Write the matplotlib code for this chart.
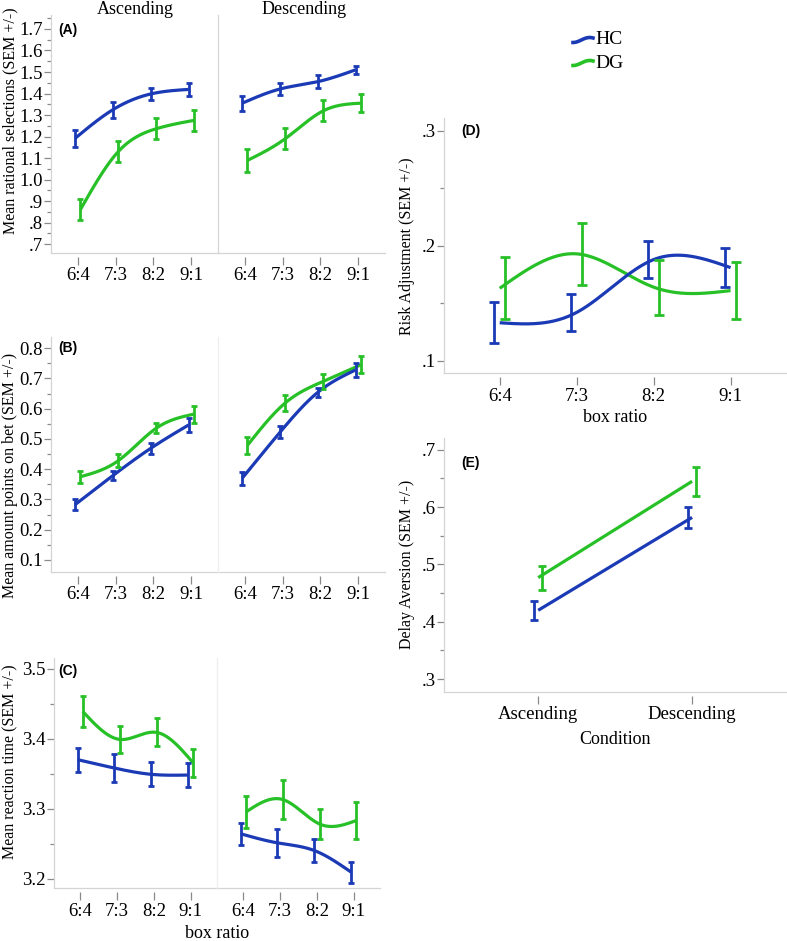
import numpy as np
import matplotlib
matplotlib.use("Agg")
import matplotlib.pyplot as plt
from matplotlib.lines import Line2D
from matplotlib.ticker import MultipleLocator, FuncFormatter

plt.rcParams["font.family"] = ["Liberation Serif", "DejaVu Serif"]

# ---------------- data ----------------
ratios = ["6:4", "7:3", "8:2", "9:1"]
conditions = ["Ascending", "Descending"]
groups = ["HC", "DG"]

# (A) Mean rational selections
A_asc_hc = [1.192, 1.325, 1.398, 1.419]
A_asc_hc_sem = [0.040, 0.037, 0.028, 0.029]
A_asc_dg = [0.861, 1.130, 1.236, 1.275]
A_asc_dg_sem = [0.050, 0.050, 0.049, 0.049]
A_desc_hc = [1.355, 1.421, 1.455, 1.510]
A_desc_hc_sem = [0.035, 0.030, 0.029, 0.017]
A_desc_dg = [1.089, 1.190, 1.319, 1.355]
A_desc_dg_sem = [0.053, 0.050, 0.049, 0.042]

# (B) Mean amount points on bet
B_asc_hc = [0.283, 0.379, 0.469, 0.546]
B_asc_hc_sem = [0.017, 0.016, 0.019, 0.022]
B_asc_dg = [0.375, 0.428, 0.535, 0.582]
B_asc_dg_sem = [0.020, 0.022, 0.017, 0.028]
B_desc_hc = [0.370, 0.522, 0.654, 0.728]
B_desc_hc_sem = [0.022, 0.020, 0.016, 0.022]
B_desc_dg = [0.479, 0.619, 0.690, 0.745]
B_desc_dg_sem = [0.029, 0.026, 0.024, 0.028]

# (C) Mean reaction time
C_asc_hc = [3.370, 3.358, 3.349, 3.348]
C_asc_hc_sem = [0.017, 0.020, 0.017, 0.017]
C_asc_dg = [3.439, 3.399, 3.409, 3.365]
C_asc_dg_sem = [0.022, 0.019, 0.020, 0.020]
C_desc_hc = [3.264, 3.251, 3.240, 3.209]
C_desc_hc_sem = [0.016, 0.020, 0.017, 0.015]
C_desc_dg = [3.295, 3.313, 3.278, 3.283]
C_desc_dg_sem = [0.023, 0.028, 0.021, 0.026]

# (D) Risk adjustment
D_hc = [0.133, 0.142, 0.188, 0.181]
D_hc_sem = [0.018, 0.016, 0.016, 0.017]
D_dg = [0.163, 0.193, 0.164, 0.161]
D_dg_sem = [0.027, 0.027, 0.024, 0.025]

# (E) Delay aversion
E_hc = [0.420, 0.582]
E_hc_sem = [0.017, 0.018]
E_dg = [0.477, 0.645]
E_dg_sem = [0.021, 0.025]

HC_COL = "#1b3ab5"
DG_COL = "#27c127"
SERIF = "Liberation Serif"
SANS = "Liberation Sans"
SPINE = "#d4d4d4"
TICK = "#8a8a8a"
TICKFS = 13.5

W, H = 787, 941
fig = plt.figure(figsize=(W / 100, H / 100), dpi=100)


def rect(l, t, r, b):
    return [l / W, 1 - b / H, (r - l) / W, (b - t) / H]


def spline(x, y, n=200):
    x = np.asarray(x, float)
    y = np.asarray(y, float)
    k = len(x)
    h = np.diff(x)
    A = np.zeros((k, k))
    rhs = np.zeros(k)
    A[0, 0] = 1
    A[-1, -1] = 1
    for i in range(1, k - 1):
        A[i, i - 1] = h[i - 1]
        A[i, i] = 2 * (h[i - 1] + h[i])
        A[i, i + 1] = h[i]
        rhs[i] = 3 * ((y[i + 1] - y[i]) / h[i] - (y[i] - y[i - 1]) / h[i - 1])
    c = np.linalg.solve(A, rhs)
    xs = np.linspace(x[0], x[-1], n)
    idx = np.clip(np.searchsorted(x, xs) - 1, 0, k - 2)
    dx = xs - x[idx]
    bcoef = (y[idx + 1] - y[idx]) / h[idx] - h[idx] * (2 * c[idx] + c[idx + 1]) / 3
    dcoef = (c[idx + 1] - c[idx]) / (3 * h[idx])
    return xs, y[idx] + bcoef * dx + c[idx] * dx ** 2 + dcoef * dx ** 3


def style_axes(ax, xlabels, xlim, ylim, left=True, sep_color=SPINE):
    ax.set_xlim(*xlim)
    ax.set_ylim(*ylim)
    for s in ["top", "right"]:
        ax.spines[s].set_visible(False)
    ax.spines["bottom"].set_visible(False)
    ax.spines["bottom"].set_position(("outward", 3))
    ax.plot([0, 1], [0, 0], transform=ax.transAxes, color=SPINE, lw=0.9,
            clip_on=False, zorder=0)
    ax.set_xticks(range(len(xlabels)))
    ax.set_xticklabels(xlabels)
    ax.tick_params(axis="x", direction="out", length=6, width=0.9, color=TICK,
                   pad=1.5, labelsize=TICKFS)
    ax.set_facecolor("none")
    if left:
        ax.spines["left"].set_color(SPINE)
        ax.spines["left"].set_linewidth(0.9)
        ax.tick_params(axis="y", which="major", direction="out", length=5,
                       width=0.9, color=TICK, pad=1, labelsize=TICKFS)
        ax.tick_params(axis="y", which="minor", direction="out", length=3,
                       width=0.9, color=TICK)
    else:
        ax.spines["left"].set_color(sep_color)
        ax.spines["left"].set_linewidth(0.9)
        ax.tick_params(axis="y", which="both", left=False, labelleft=False)


def draw_series(ax, x, y, sem, color, off, line_on_offset=True, smooth=True,
                cap=2.3):
    x = np.asarray(x, float)
    lx = x + off if line_on_offset else x
    if smooth:
        xs, ys = spline(lx, y)
    else:
        xs, ys = lx, y
    ax.plot(xs, ys, color=color, lw=2.3, solid_capstyle="butt", zorder=3)
    ax.errorbar(x + off, y, yerr=sem, fmt="none", ecolor=color, elinewidth=2.0,
                capsize=cap, capthick=2.0, zorder=4)


def fmt_factory(kind):
    def f(v, pos):
        s = f"{v:.1f}"
        if kind == "nolead" and s.startswith("0."):
            s = s[1:]
        return s
    return FuncFormatter(f)


def left_panel(t, b, l, m, r, ylim, data, yfmt, sep_color):
    axL = fig.add_axes(rect(l, t, m, b))
    axR = fig.add_axes(rect(m, t, r, b))
    xs = np.arange(4)
    (ah, ahs, ad, ads, dh, dhs, dd, dds) = data
    for ax, (hc, hcs, dg, dgs) in ((axL, (ah, ahs, ad, ads)),
                                   (axR, (dh, dhs, dd, dds))):
        draw_series(ax, xs, dg, dgs, DG_COL, 0.07)
        draw_series(ax, xs, hc, hcs, HC_COL, -0.07)
    axL.yaxis.set_major_locator(MultipleLocator(0.1))
    axL.yaxis.set_minor_locator(MultipleLocator(0.05))
    axL.yaxis.set_major_formatter(fmt_factory(yfmt))
    style_axes(axL, ratios, (-0.71, 3.71), ylim, left=True)
    style_axes(axR, ratios, (-0.71, 3.71), ylim, left=False, sep_color=sep_color)
    return axL, axR


# (A)
axA = left_panel(15, 252.7, 51, 218, 385, (0.66, 1.765),
                 (A_asc_hc, A_asc_hc_sem, A_asc_dg, A_asc_dg_sem,
                  A_desc_hc, A_desc_hc_sem, A_desc_dg, A_desc_dg_sem),
                 "nolead", "#d6d6d6")
# (B)
axB = left_panel(336.7, 571.7, 51, 218, 385, (0.061, 0.838),
                 (B_asc_hc, B_asc_hc_sem, B_asc_dg, B_asc_dg_sem,
                  B_desc_hc, B_desc_hc_sem, B_desc_dg, B_desc_dg_sem),
                 "lead", "#eeeeee")
# (C)
axC = left_panel(658.3, 888.3, 54, 217, 380, (3.186, 3.515),
                 (C_asc_hc, C_asc_hc_sem, C_asc_dg, C_asc_dg_sem,
                  C_desc_hc, C_desc_hc_sem, C_desc_dg, C_desc_dg_sem),
                 "lead", "#eeeeee")

# (D)
axD = fig.add_axes(rect(444.3, 118.3, 786, 373.3))
xd = np.arange(4)
draw_series(axD, xd, D_dg, D_dg_sem, DG_COL, 0.075, line_on_offset=False, cap=3.3)
draw_series(axD, xd, D_hc, D_hc_sem, HC_COL, -0.075, line_on_offset=False, cap=3.3)
axD.yaxis.set_major_locator(MultipleLocator(0.1))
axD.yaxis.set_minor_locator(MultipleLocator(0.05))
axD.yaxis.set_major_formatter(fmt_factory("nolead"))
style_axes(axD, ratios, (-0.72, 3.72), (0.089, 0.311))

# (E)
axE = fig.add_axes(rect(444.3, 438.3, 786, 691.7))
xe = np.arange(2)
draw_series(axE, xe, E_dg, E_dg_sem, DG_COL, 0.025, line_on_offset=False,
            smooth=False, cap=3)
draw_series(axE, xe, E_hc, E_hc_sem, HC_COL, -0.025, line_on_offset=False,
            smooth=False, cap=3)
axE.yaxis.set_major_locator(MultipleLocator(0.1))
axE.yaxis.set_minor_locator(MultipleLocator(0.05))
axE.yaxis.set_major_formatter(fmt_factory("nolead"))
style_axes(axE, conditions, (-0.61, 1.61), (0.278, 0.72))


def ftext(x, y, s, **kw):
    fig.text(x / W, 1 - y / H, s, **kw)


# titles / labels
ftext(135, 9, "Ascending", ha="center", va="center", fontsize=13)
ftext(304, 9, "Descending", ha="center", va="center", fontsize=13)
ftext(10, 121, "Mean rational selections (SEM +/-)", rotation=90, ha="center",
      va="center", fontsize=11.5)
ftext(10, 475, "Mean amount points on bet (SEM +/-)", rotation=90, ha="center",
      va="center", fontsize=11.5)
ftext(10, 762, "Mean reaction time (SEM +/-)", rotation=90, ha="center",
      va="center", fontsize=11.5)
ftext(407, 246, "Risk Adjustment (SEM +/-)", rotation=90, ha="center",
      va="center", fontsize=11.5)
ftext(407, 564, "Delay Aversion (SEM +/-)", rotation=90, ha="center",
      va="center", fontsize=11.5)
ftext(217, 933, "box ratio", ha="center", va="center", fontsize=13)
ftext(615, 417, "box ratio", ha="center", va="center", fontsize=13)
ftext(615, 739, "Condition", ha="center", va="center", fontsize=13)

# panel letters
for s, x, y in (("(A)", 58, 30), ("(B)", 58, 348), ("(C)", 58, 671),
                ("(D)", 461, 131), ("(E)", 461, 463)):
    ftext(x, y, s, ha="left", va="center", fontfamily=SANS, fontweight="bold",
          fontsize=10)

# legend
for name, col, yy in (("HC", HC_COL, 40), ("DG", DG_COL, 63)):
    t = np.linspace(0, 1, 30)
    lx = 573 + 20 * t
    ly = yy + 2.5 * np.cos(np.pi * t * 1.2)
    fig.add_artist(Line2D(lx / W, 1 - ly / H, color=col, lw=2.6,
                          transform=fig.transFigure))
    ftext(595, yy, name, ha="left", va="center", fontsize=14)

fig.savefig("out.png", dpi=100)
